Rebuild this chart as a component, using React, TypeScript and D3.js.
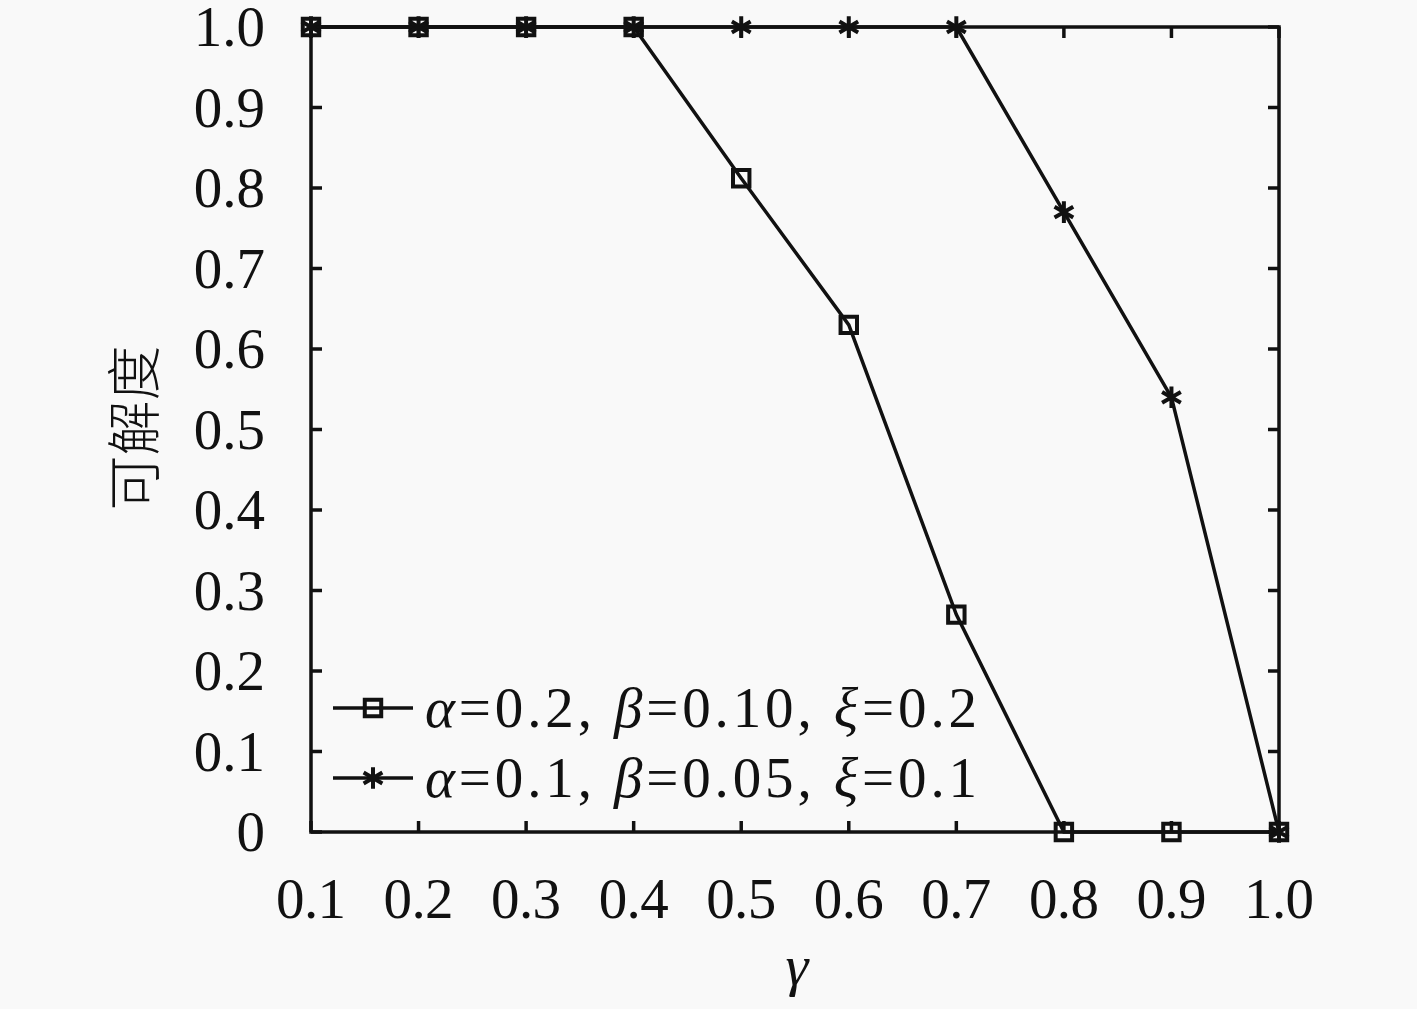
import React, { useEffect, useRef } from "react";
import * as d3 from "d3";

const gammaValues = [0.1, 0.2, 0.3, 0.4, 0.5, 0.6, 0.7, 0.8, 0.9, 1.0];
const seriesSquare = [1.0, 1.0, 1.0, 1.0, 0.812, 0.63, 0.27, 0, 0, 0];
const seriesStar = [1.0, 1.0, 1.0, 1.0, 1.0, 1.0, 1.0, 0.77, 0.54, 0];
const yTicks = [0, 0.1, 0.2, 0.3, 0.4, 0.5, 0.6, 0.7, 0.8, 0.9, 1.0];
const legendLabels = [
  { a: "0.2", b: "0.10", x: "0.2" },
  { a: "0.1", b: "0.05", x: "0.1" },
];

const W = 1417;
const H = 1009;
const serif = "'Liberation Serif', 'DejaVu Serif', serif";

const App: React.FC = () => {
  const svgRef = useRef<SVGSVGElement>(null);

  useEffect(() => {
    if (!svgRef.current) return;
    const svg = d3.select(svgRef.current);
    svg.selectAll("*").remove();

    const left = 311, right = 1279, top = 27, bottom = 832;
    const x = d3.scaleLinear().domain([0.1, 1.0]).range([left, right]);
    const y = d3.scaleLinear().domain([0, 1]).range([bottom, top]);

    svg.append("rect").attr("width", W).attr("height", H).attr("fill", "#f9f9f9");

    const tickLen = 11;
    const axes = svg.append("g").attr("stroke", "#111").attr("stroke-width", 3.5);

    // ticks inward, all four sides
    gammaValues.forEach(v => {
      axes.append("line").attr("x1", x(v)).attr("x2", x(v)).attr("y1", bottom).attr("y2", bottom - tickLen);
      axes.append("line").attr("x1", x(v)).attr("x2", x(v)).attr("y1", top).attr("y2", top + tickLen);
    });
    yTicks.forEach(v => {
      axes.append("line").attr("x1", left).attr("x2", left + tickLen).attr("y1", y(v)).attr("y2", y(v));
      axes.append("line").attr("x1", right).attr("x2", right - tickLen).attr("y1", y(v)).attr("y2", y(v));
    });

    axes.append("rect")
      .attr("x", left).attr("y", top)
      .attr("width", right - left).attr("height", bottom - top)
      .attr("fill", "none");

    // tick labels
    const labels = svg.append("g").attr("font-family", serif).attr("font-size", 57).attr("fill", "#111");
    gammaValues.forEach(v => {
      labels.append("text").attr("x", x(v)).attr("y", 918)
        .attr("text-anchor", "middle")
        .attr("textLength", 70).attr("lengthAdjust", "spacing")
        .text(v === 1 ? "1.0" : d3.format(".1f")(v));
    });
    yTicks.forEach(v => {
      labels.append("text").attr("x", 265).attr("y", y(v) + 19)
        .attr("text-anchor", "end").text(v === 0 ? "0" : d3.format(".1f")(v));
    });

    // axis titles
    svg.append("text")
      .attr("transform", `translate(154,428) rotate(-90)`)
      .attr("text-anchor", "middle")
      .attr("font-family", "'Noto Sans CJK SC', sans-serif")
      .attr("font-weight", 300)
      .attr("font-size", 55)
      .attr("fill", "#111")
      .text("可解度");

    svg.append("text")
      .attr("x", 797).attr("y", 985)
      .attr("text-anchor", "middle")
      .attr("font-family", serif)
      .attr("font-style", "italic")
      .attr("font-size", 58)
      .attr("fill", "#111")
      .text("γ");

    const line = d3.line<number>()
      .x((_, i) => x(gammaValues[i]))
      .y(d => y(d));

    const square = d3.symbol(d3.symbolSquare, 270);
    const star = d3.symbol(d3.symbolAsterisk, 330);

    const plot = svg.append("g");
    const drawSeries = (vals: number[], sym: d3.Symbol<any, any>) => {
      plot.append("path").attr("d", line(vals)).attr("fill", "none")
        .attr("stroke", "#111").attr("stroke-width", 3.5);
      plot.selectAll(null).data(vals).enter().append("path")
        .attr("transform", (d, i) => `translate(${x(gammaValues[i])},${y(d)})`)
        .attr("d", sym())
        .attr("fill", "none")
        .attr("stroke", "#111")
        .attr("stroke-width", 4);
    };
    drawSeries(seriesSquare, square);
    drawSeries(seriesStar, star);

    // legend
    const legend = svg.append("g");
    const rows = [708, 778];
    const syms = [square, star];
    rows.forEach((ry, i) => {
      legend.append("line").attr("x1", 333).attr("x2", 413).attr("y1", ry).attr("y2", ry)
        .attr("stroke", "#111").attr("stroke-width", 3.5);
      legend.append("path").attr("transform", `translate(373,${ry})`).attr("d", syms[i]())
        .attr("fill", "none").attr("stroke", "#111").attr("stroke-width", 4);
      const t = legend.append("text").attr("x", 425).attr("y", ry + 19)
        .attr("font-family", serif).attr("font-size", 57).attr("fill", "#111")
        .attr("textLength", 552).attr("lengthAdjust", "spacing");
      const l = legendLabels[i];
      t.append("tspan").attr("font-style", "italic").text("α");
      t.append("tspan").text(`=${l.a}, `);
      t.append("tspan").attr("font-style", "italic").text("β");
      t.append("tspan").text(`=${l.b}, `);
      t.append("tspan").attr("font-style", "italic").text("ξ");
      t.append("tspan").text(`=${l.x}`);
    });
  }, []);

  return (
    <svg ref={svgRef} width={W} height={H}
      style={{ position: "absolute", left: 0, top: 0, display: "block" }} />
  );
};

export default App;
